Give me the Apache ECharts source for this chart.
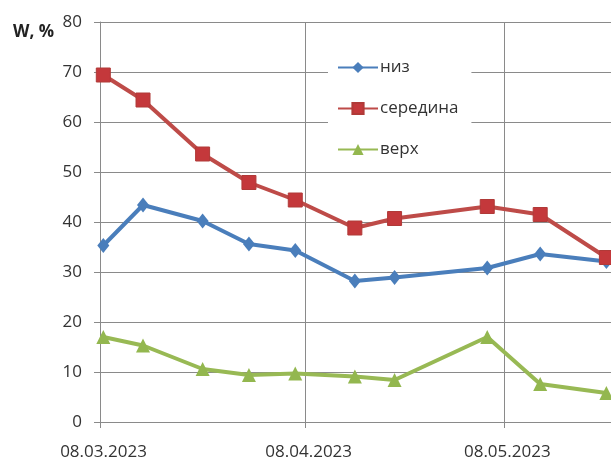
<!DOCTYPE html>
<html>
<head>
<meta charset="utf-8">
<script src="https://cdn.jsdelivr.net/npm/echarts@6/dist/echarts.min.js"></script>
<style>
  html, body { margin: 0; padding: 0; background: #fff; }
  #chart { width: 611px; height: 462px; }
</style>
</head>
<body>
<div id="chart"></div>
<script>
// Measurement dates
const dates = ['2023-03-08', '2023-03-14', '2023-03-23', '2023-03-30', '2023-04-06',
               '2023-04-15', '2023-04-21', '2023-05-05', '2023-05-13', '2023-05-23'];
// Moisture W, % by layer
const nizValues = [35.3, 43.4, 40.2, 35.6, 34.3, 28.2, 28.9, 30.8, 33.6, 32.1];
const seredinaValues = [69.4, 64.4, 53.6, 47.9, 44.4, 38.8, 40.7, 43.1, 41.5, 32.9];
const verkhValues = [17.0, 15.3, 10.6, 9.4, 9.7, 9.1, 8.4, 17.0, 7.6, 5.8];
// Date ticks on the horizontal axis
const dateTicks = ['2023-03-08', '2023-04-08', '2023-05-08', '2023-06-08'];
const yTicks = [0, 10, 20, 30, 40, 50, 60, 70, 80];

// Day boundaries for ticks; each measurement sits in the middle of its day
const toTime = (s, hour = 0) => { const [y, m, d] = s.split('-').map(Number); return new Date(y, m - 1, d, hour).getTime(); };
const pairs = vals => dates.map((d, i) => [toTime(d, 12), vals[i]]);
const tickTimes = dateTicks.map(d => toTime(d));

const font = '"Open Sans", sans-serif';
const gridColor = '#8a8a8a';

const chart = echarts.init(document.getElementById('chart'), null, { renderer: 'canvas' });
chart.setOption({
  animation: false,
  backgroundColor: '#fff',
  title: {
    text: 'W, %',
    left: 8, top: 19,
    textStyle: { fontFamily: font, fontSize: 17, fontWeight: 'bold', color: '#222' }
  },
  grid: { left: 100, top: 22, width: 609, height: 400, outerBoundsMode: 'none', containLabel: false },
  legend: {
    orient: 'vertical',
    left: 328, top: 45,
    padding: [14, 13, 14, 9],
    backgroundColor: '#fff',
    itemWidth: 40, itemHeight: 14, itemGap: 24,
    textStyle: { fontFamily: font, fontSize: 17, color: '#333', padding: [0, 0, 0, -3] },
    data: ['низ', 'середина', 'верх']
  },
  xAxis: {
    type: 'value',
    min: tickTimes[0], max: tickTimes[3],
    axisLine: { lineStyle: { color: gridColor, width: 1 } },
    axisTick: { show: true, length: 6, customValues: tickTimes, lineStyle: { color: gridColor } },
    axisLabel: {
      customValues: tickTimes,
      margin: 22,
      padding: [0, 0, 0, 7],
      fontFamily: font, fontSize: 17, color: '#333',
      formatter: v => echarts.time.format(v, '{dd}.{MM}.{yyyy}', false)
    },
    splitLine: { show: true, lineStyle: { color: gridColor, width: 1 } }
  },
  yAxis: {
    type: 'value',
    min: 0, max: 80, interval: 10,
    axisLine: { show: true, lineStyle: { color: gridColor, width: 1 } },
    axisTick: { show: true, length: 6, lineStyle: { color: gridColor } },
    axisLabel: {
      margin: 18, padding: [4, 0, 0, 0], fontFamily: font, fontSize: 17, color: '#333',
      formatter: v => (yTicks.includes(v) ? String(v) : '')
    },
    splitLine: { show: true, lineStyle: { color: gridColor, width: 1 } }
  },
  series: [
    {
      name: 'низ', type: 'line', data: pairs(nizValues),
      symbol: 'diamond', symbolSize: [12, 15],
      lineStyle: { color: '#4a7ebb', width: 4 },
      itemStyle: { color: '#4a7ebb' }
    },
    {
      name: 'середина', type: 'line', data: pairs(seredinaValues),
      symbol: 'rect', symbolSize: 14,
      lineStyle: { color: '#be4b48', width: 4 },
      itemStyle: { color: '#c4383b', borderColor: '#b03a38', borderWidth: 1 }
    },
    {
      name: 'верх', type: 'line', data: pairs(verkhValues),
      symbol: 'triangle', symbolSize: 14,
      lineStyle: { color: '#98b954', width: 4 },
      itemStyle: { color: '#93b74f' }
    }
  ]
});
</script>
</body>
</html>
